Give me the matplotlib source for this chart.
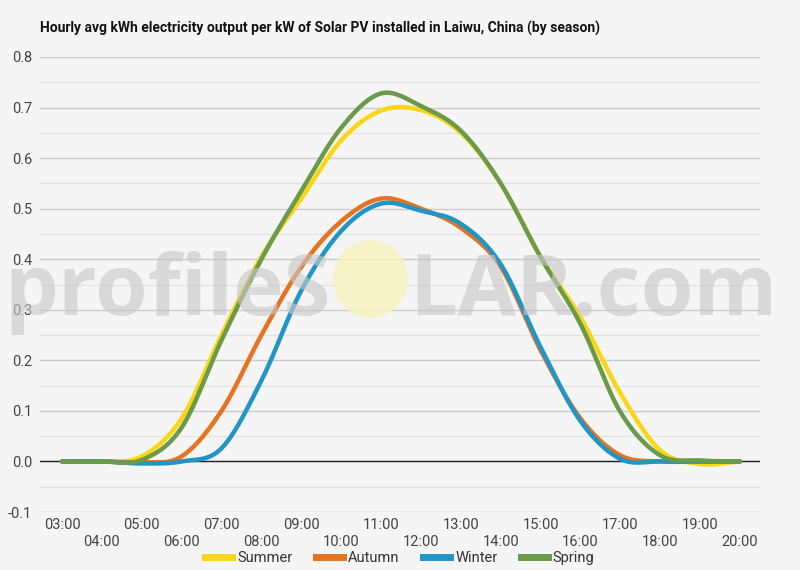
import numpy as np
import matplotlib
matplotlib.use('Agg')
import matplotlib.pyplot as plt
from matplotlib.patches import Ellipse
from matplotlib.lines import Line2D

hours = list(range(3, 21))
hour_labels = ['%02d:00' % h for h in hours]
seasons = ['Summer', 'Autumn', 'Winter', 'Spring']
colors = ['#f9d616', '#e5731f', '#2195c6', '#6b9a4b']

summer = [0.0, 0.0, 0.01, 0.085, 0.25, 0.405, 0.52, 0.635, 0.694, 0.695, 0.65, 0.55, 0.405, 0.285, 0.135, 0.022, -0.005, 0.0]
autumn = [0.0, 0.0, -0.002, 0.01, 0.10, 0.25, 0.385, 0.475, 0.52, 0.50, 0.462, 0.385, 0.22, 0.085, 0.012, 0.0, 0.0, 0.0]
winter = [0.0, 0.0, -0.004, 0.0, 0.026, 0.16, 0.338, 0.456, 0.51, 0.496, 0.47, 0.39, 0.226, 0.08, 0.005, 0.0, 0.0, 0.0]
spring = [0.0, 0.0, 0.003, 0.067, 0.24, 0.40, 0.535, 0.66, 0.728, 0.703, 0.654, 0.55, 0.404, 0.272, 0.098, 0.012, 0.002, 0.0]
series = [summer, autumn, winter, spring]

FONT = ['Roboto', 'DejaVu Sans']


def catmull(x, y, n=24):
    # uniform catmull-rom through the hourly points
    x = np.asarray(x, float)
    y = np.asarray(y, float)
    yp = np.concatenate([[2 * y[0] - y[1]], y, [2 * y[-1] - y[-2]]])
    xs, ys = [], []
    t = np.linspace(0, 1, n, endpoint=False)
    for i in range(len(x) - 1):
        p0, p1, p2, p3 = yp[i], yp[i + 1], yp[i + 2], yp[i + 3]
        seg = 0.5 * (2 * p1 + (-p0 + p2) * t + (2 * p0 - 5 * p1 + 4 * p2 - p3) * t ** 2
                     + (-p0 + 3 * p1 - 3 * p2 + p3) * t ** 3)
        xs.append(x[i] + (x[i + 1] - x[i]) * t)
        ys.append(seg)
    xs.append([x[-1]])
    ys.append([y[-1]])
    return np.concatenate(xs), np.concatenate(ys)


bg = '#f5f5f5'
fig = plt.figure(figsize=(8, 5.7), dpi=100, facecolor=bg)
ax = fig.add_axes([0.05, 1 - 512 / 570, 0.90, (512 - 57) / 570])
ax.set_facecolor(bg)

# watermark
wm_y = 1 - 315 / 570
fig.text(331 / 800, wm_y, 'profileS', ha='right', va='baseline', fontsize=61.5, fontweight='bold',
         family='Open Sans', color='#c8c8c8', alpha=0.62, zorder=0.5)
fig.text(409 / 800, wm_y, 'LAR.com', ha='left', va='baseline', fontsize=61.5, fontweight='bold',
         family='Open Sans', color='#c8c8c8', alpha=0.62, zorder=0.5)
fig.patches.append(Ellipse((3.705, 5.7 - 2.79), 0.75, 0.78, transform=fig.dpi_scale_trans,
                           facecolor='#f8f2c0', edgecolor='none', alpha=0.85, zorder=0.6))

for s, vals, c in zip(seasons, series, colors):
    sx, sy = catmull(hours, vals)
    ax.plot(sx, sy, color=c, lw=3.2, solid_capstyle='round', zorder=3)

ax.set_xlim(3 - 22 / 39.88, 20 + 20 / 39.88)
ax.set_ylim(-0.1, 0.8)
yt = np.round(np.arange(-0.1, 0.81, 0.1), 1)
ax.set_yticks(yt)
ax.set_yticklabels(['%.1f' % v for v in yt])
ax.set_yticks(np.arange(-0.05, 0.8, 0.1), minor=True)
ax.grid(which='major', axis='y', color='#cccccc', lw=1, zorder=0)
ax.grid(which='minor', axis='y', color='#e4e4e4', lw=1, zorder=0)
ax.axhline(0, color='#222222', lw=1, zorder=2)
ax.set_xticks(hours)
ax.set_xticklabels([lab if h % 2 == 1 else '\n' + lab for h, lab in zip(hours, hour_labels)],
                   linespacing=1.35)
ax.tick_params(axis='both', which='both', length=0, colors='#444444', labelsize=10.5)
ax.tick_params(axis='x', pad=4)
ax.tick_params(axis='y', pad=5.5)
for lab in ax.get_xticklabels() + ax.get_yticklabels():
    lab.set_family(FONT)
for sp in ax.spines.values():
    sp.set_visible(False)
ax.set_axisbelow(True)

fig.text(40 / 800, 1 - 28 / 570, 'Hourly avg kWh electricity output per kW of Solar PV installed in Laiwu, China (by season)',
         ha='left', va='center', fontsize=10, fontweight='bold', family=FONT, color='#111111')

handles = [Line2D([], [], color=c, lw=5) for c in colors]
leg = fig.legend(handles, seasons, loc='center', bbox_to_anchor=(0.5, 1 - 558 / 570), ncol=4,
                 frameon=False, handlelength=1.85, handletextpad=0.35, columnspacing=1.6,
                 prop={'family': FONT, 'size': 10.5})
for t in leg.get_texts():
    t.set_color('#333333')

fig.savefig('out.png', dpi=100, facecolor=bg)
